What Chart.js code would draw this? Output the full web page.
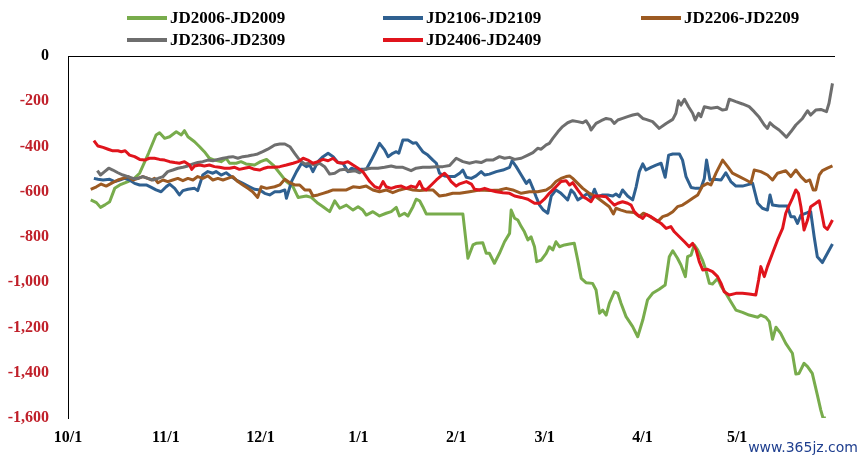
<!DOCTYPE html>
<html>
<head>
<meta charset="utf-8">
<script src="https://cdn.jsdelivr.net/npm/chart.js@4.4.1/dist/chart.umd.min.js"></script>
<style>
  html, body { margin: 0; padding: 0; background: #fff; }
  #wrap { position: relative; width: 864px; height: 463px; }
  #zero { position: absolute; height: 0; border-top: 1px solid #000; display: none; }
</style>
</head>
<body>
<div id="wrap"><canvas id="spread" width="864" height="463"></canvas><div id="zero"></div></div>
<script>
// series names (legend order)
const seriesNames = ['JD2006-JD2009', 'JD2106-JD2109', 'JD2206-JD2209', 'JD2306-JD2309', 'JD2406-JD2409'];
const seriesColors = ['#78AC4C', '#2F6090', '#9C5A22', '#6E6E6E', '#E0141C'];

// x = days since 10/1, y = spread value
const jd2006 = [[7.2,-636],[9,-648],[10.3,-669],[11.7,-658],[13.2,-644],[14.8,-585],[16.4,-570],[19,-555],[21.1,-540],[22.7,-518],[25.5,-430],[27.9,-349],[29,-339],[30.6,-364],[32.2,-357],[34.3,-335],[35.9,-349],[36.9,-330],[38,-357],[40.1,-379],[41.7,-401],[43.2,-423],[44.8,-452],[46.4,-460],[48.5,-467],[50.1,-452],[51.2,-474],[53.3,-474],[54.8,-467],[56.4,-477],[59.1,-482],[61,-467],[62.9,-457],[65,-482],[67.1,-518],[69.2,-555],[71.3,-578],[72.9,-625],[75.5,-619],[77.1,-625],[79.2,-651],[80.8,-666],[82.9,-688],[84.5,-640],[86.1,-673],[88.2,-659],[90.3,-681],[91.9,-666],[93.4,-681],[94.5,-703],[96.6,-688],[98.7,-707],[100.8,-695],[102.4,-688],[104,-669],[105,-707],[106.6,-695],[107.7,-707],[109.3,-666],[110.3,-633],[111.4,-640],[112.4,-666],[113.5,-698],[125.1,-698],[126.7,-894],[128.3,-835],[129.3,-828],[131.4,-825],[132.5,-872],[133.5,-872],[135.1,-916],[136.7,-872],[138.3,-821],[139.9,-784],[140.4,-681],[141.5,-717],[142.5,-725],[143.6,-754],[144.6,-777],[145.7,-813],[146.7,-799],[147.8,-843],[148.5,-909],[149.9,-902],[151.5,-872],[152.5,-843],[153.6,-857],[154.6,-821],[155.7,-843],[157.3,-835],[158.9,-831],[160.4,-828],[161.5,-902],[162.6,-983],[164.1,-1002],[166.2,-1005],[167.3,-1034],[168.4,-1137],[169.4,-1123],[170.5,-1145],[171.5,-1093],[173.1,-1042],[174.2,-1049],[175.2,-1093],[176.8,-1152],[178.9,-1196],[180.5,-1241],[182.1,-1167],[183.6,-1078],[185.2,-1049],[187.3,-1031],[189.2,-1012],[190.5,-887],[191.6,-861],[193.1,-894],[194.2,-924],[195.6,-975],[196.3,-887],[197.4,-880],[198.4,-835],[199.5,-857],[201,-902],[202.1,-946],[203.2,-1005],[204.2,-1008],[205.8,-983],[206.9,-1017],[208.4,-1049],[210,-1086],[211.6,-1123],[213.7,-1133],[215.8,-1145],[218.5,-1155],[219.5,-1145],[221.1,-1155],[222.2,-1174],[223.2,-1252],[224.3,-1199],[225.8,-1226],[227.4,-1270],[229.5,-1314],[230.6,-1406],[231.6,-1403],[233.2,-1358],[234.3,-1373],[235.8,-1403],[237.4,-1498],[238.5,-1565],[239.2,-1600],[240.1,-1600]];

const jd2106 = [[8.2,-541],[9.5,-545],[11.1,-548],[13.2,-545],[14.8,-555],[16.4,-548],[17.9,-541],[19.5,-548],[21.1,-563],[22.7,-570],[24.8,-570],[26.4,-581],[27.9,-592],[29.5,-600],[31.1,-578],[32.2,-566],[33.8,-585],[35.3,-614],[36.4,-595],[38,-589],[40.1,-585],[41.1,-595],[42.7,-526],[44.3,-511],[45.9,-518],[46.9,-511],[48.5,-526],[50.1,-516],[51.7,-533],[53.3,-548],[55.4,-563],[57.5,-578],[59.1,-589],[60.8,-592],[62.3,-607],[63.9,-614],[65.5,-600],[67.1,-600],[68.7,-592],[69.2,-629],[70.8,-555],[72.4,-511],[74,-474],[75.5,-489],[76.6,-482],[77.6,-511],[79.2,-467],[80.8,-445],[82.4,-430],[84,-445],[85.5,-471],[87.1,-474],[88.7,-511],[89.8,-496],[91.4,-504],[92.9,-501],[94.5,-501],[96.1,-460],[97.2,-430],[98.7,-386],[100.3,-415],[101.4,-445],[102.9,-430],[104,-423],[104.8,-430],[106.1,-371],[107.7,-371],[109.3,-386],[110.3,-383],[111.4,-404],[112.4,-423],[114,-438],[115.6,-460],[116.7,-474],[117.7,-518],[119.3,-530],[120.9,-533],[122.5,-533],[124.1,-518],[125.1,-504],[126.2,-536],[127.8,-541],[129.3,-530],[130.9,-511],[132,-526],[133.5,-522],[135.7,-511],[137.8,-504],[139.9,-492],[140.7,-463],[142,-489],[143.6,-526],[145.2,-563],[146.2,-548],[147.3,-585],[148.3,-622],[149.4,-659],[150.6,-681],[152,-695],[153.1,-619],[154.6,-592],[156.2,-607],[157.3,-622],[158.3,-636],[159.4,-592],[160.4,-607],[161.5,-636],[163.1,-622],[164.7,-607],[165.7,-629],[166.8,-589],[167.8,-622],[169.4,-614],[171,-614],[172.6,-619],[173.6,-610],[174.7,-622],[175.7,-592],[177.3,-619],[178.9,-636],[180,-578],[181,-511],[182.1,-477],[183.1,-504],[184.7,-492],[186.3,-482],[187.9,-474],[189.2,-536],[190.3,-438],[191.6,-433],[193.7,-433],[194.7,-460],[195.8,-533],[197.4,-581],[198.9,-585],[200.5,-585],[201.6,-541],[202.3,-460],[203.4,-548],[204.7,-545],[206.9,-548],[208.4,-516],[210,-555],[211.6,-575],[213.7,-575],[216.9,-563],[218.5,-651],[220,-673],[221.6,-681],[222.4,-614],[223.2,-659],[225.3,-663],[227.9,-663],[229,-710],[230.1,-710],[231.1,-740],[232.2,-703],[234.3,-692],[235.3,-688],[236.4,-799],[237.4,-887],[239,-913],[240.6,-872],[242.2,-831]];

const jd2206 = [[7.2,-589],[9,-578],[10.5,-566],[12.1,-575],[13.7,-563],[15.8,-548],[17.4,-541],[19,-533],[20.6,-548],[22.2,-541],[23.7,-533],[25.3,-541],[26.4,-548],[27.4,-541],[28.5,-560],[30.1,-548],[31.6,-555],[33.2,-548],[34.8,-541],[36.4,-551],[38,-541],[39.6,-548],[41.1,-533],[42.7,-541],[44.3,-530],[45.9,-548],[47.5,-541],[49.1,-548],[50.6,-541],[52.2,-533],[53.8,-555],[55.4,-570],[57,-585],[58.5,-600],[60.1,-625],[61.2,-578],[62.9,-585],[65.5,-578],[67.1,-570],[68.7,-545],[70.3,-560],[71.8,-570],[73.4,-570],[75,-592],[76.6,-592],[77.6,-619],[79.2,-614],[80.8,-607],[82.4,-600],[84,-592],[86.1,-592],[88.2,-592],[90.3,-578],[92.4,-581],[94.5,-575],[96.6,-592],[98.7,-600],[100.8,-592],[102.9,-604],[105.1,-592],[107.2,-585],[109.3,-592],[111.4,-595],[113.5,-592],[115.6,-592],[117.7,-619],[119.8,-614],[121.9,-607],[124.1,-607],[127.2,-600],[130.4,-592],[133.5,-595],[136.7,-592],[138.8,-585],[140.9,-592],[143.6,-607],[146.2,-600],[148.8,-600],[151.5,-592],[153.1,-578],[154.6,-555],[156.2,-541],[157.8,-533],[158.9,-530],[159.9,-541],[161.5,-563],[163.1,-585],[165.2,-607],[167.3,-622],[169.4,-644],[171.5,-666],[172.8,-698],[173.6,-673],[175.2,-681],[176.8,-688],[179.4,-692],[181,-710],[182.3,-695],[183.6,-703],[185.2,-717],[186.8,-732],[188.4,-710],[190,-703],[191.6,-688],[193.1,-666],[194.7,-659],[196.3,-644],[197.9,-629],[199.5,-614],[201,-575],[202.6,-563],[203.7,-570],[205.3,-518],[207.4,-460],[209,-489],[210.5,-518],[212.7,-533],[214.8,-548],[216.4,-560],[217.4,-504],[219.5,-511],[221.6,-526],[223.2,-548],[224.8,-518],[227.4,-507],[229,-533],[230.6,-504],[232.2,-533],[233.8,-555],[235,-548],[236.1,-592],[236.9,-592],[238,-526],[239,-507],[240.6,-496],[242.2,-486]];

const jd2306 = [[9.3,-507],[10.3,-526],[11.6,-511],[12.9,-496],[14.2,-504],[15.8,-516],[17.4,-526],[19,-533],[20.6,-541],[22.2,-541],[23.7,-533],[25.3,-541],[26.9,-548],[28.5,-541],[30.1,-533],[31.6,-511],[33.2,-504],[34.8,-496],[36.4,-492],[38,-486],[39.6,-477],[41.1,-471],[42.7,-467],[44.3,-460],[45.9,-463],[47.5,-457],[49.1,-452],[50.6,-448],[52.2,-445],[53.8,-452],[55.4,-445],[57,-442],[58.5,-438],[60.1,-433],[61.7,-423],[63.3,-412],[65.5,-393],[67.1,-389],[68.7,-389],[70.3,-401],[71.8,-430],[73.4,-460],[75,-477],[76.6,-474],[78.2,-482],[79.7,-474],[81.3,-489],[82.9,-522],[84.5,-518],[86.1,-504],[87.7,-501],[89.2,-511],[90.8,-507],[92.4,-516],[94,-501],[96.1,-496],[98.2,-496],[100.3,-492],[102.4,-486],[104,-492],[106.1,-492],[108.7,-507],[110.3,-496],[112.4,-492],[114.6,-492],[116.7,-489],[118.8,-489],[120.9,-484],[123,-452],[125.1,-467],[127.2,-474],[129.3,-467],[130.9,-471],[132.5,-460],[134.6,-460],[136.7,-445],[138.3,-452],[139.9,-448],[141.5,-457],[143.6,-452],[145.7,-438],[147.3,-427],[148.8,-408],[149.9,-412],[151.5,-393],[152.5,-386],[153.6,-364],[155.2,-335],[156.7,-312],[158.3,-295],[159.9,-286],[161.5,-290],[163.1,-295],[164.1,-286],[165.2,-309],[165.7,-327],[167.3,-298],[168.9,-286],[170.5,-276],[172,-280],[173.1,-298],[174.2,-283],[175.7,-276],[177.3,-268],[178.9,-261],[180.5,-256],[182.1,-276],[183.1,-280],[185.2,-290],[187.3,-320],[189.5,-298],[191.6,-280],[192.6,-253],[193.4,-198],[194.2,-217],[195.3,-191],[196.6,-224],[197.9,-253],[198.7,-283],[199.8,-253],[200.5,-268],[201.6,-224],[203.7,-231],[205.8,-227],[207.4,-239],[208.6,-236],[209.5,-191],[211.6,-202],[213.7,-212],[215.8,-224],[217.4,-246],[219,-271],[220.6,-305],[221.6,-320],[222.4,-295],[223.7,-312],[225.3,-327],[226.4,-342],[227.6,-359],[229,-335],[230.6,-305],[232.7,-276],[234.3,-242],[235.3,-261],[236.9,-239],[238.5,-236],[240.3,-246],[241.1,-209],[242.2,-121]];

const jd2406 = [[8.2,-374],[9.5,-398],[11.1,-404],[12.7,-412],[14.2,-419],[15.8,-419],[16.9,-423],[18.1,-419],[19.5,-438],[21.1,-445],[22.7,-457],[24.3,-460],[25.8,-452],[27.4,-452],[29,-457],[30.6,-460],[32.2,-467],[33.8,-471],[35.3,-474],[36.9,-467],[38.5,-482],[39.2,-501],[40.1,-486],[41.7,-482],[43.2,-486],[44.8,-482],[46.4,-489],[48,-492],[49.6,-496],[51.2,-496],[52.8,-492],[54.3,-501],[55.9,-496],[57.5,-492],[59.1,-501],[60.7,-504],[62.2,-496],[63.3,-492],[65,-492],[67.1,-489],[69.2,-482],[71.3,-474],[72.9,-467],[74.5,-452],[76,-460],[77.6,-474],[79.2,-467],[80.8,-457],[82.4,-463],[84,-452],[85.5,-471],[87.1,-474],[88.7,-467],[90.3,-482],[91.9,-496],[93.4,-511],[94.5,-533],[95.6,-555],[97.2,-578],[98.7,-585],[99.8,-555],[100.8,-578],[102.4,-585],[104,-578],[105.6,-575],[107.2,-585],[108.7,-575],[110.3,-581],[111.4,-555],[112.4,-585],[113.5,-592],[115.1,-570],[116.7,-548],[118.2,-530],[119.3,-518],[120.3,-533],[121.4,-555],[123,-575],[124.1,-565],[126.2,-555],[127.8,-566],[128.8,-589],[130.4,-592],[132,-585],[133.5,-592],[135.7,-600],[137.8,-604],[139.9,-607],[141.5,-619],[143.6,-625],[145.7,-633],[147.8,-651],[149.4,-651],[150.9,-633],[152.5,-607],[154.6,-578],[156.2,-555],[157.8,-551],[158.9,-570],[159.9,-560],[161.5,-592],[163.1,-622],[164.1,-629],[165.7,-644],[166.8,-619],[168.4,-619],[170.5,-622],[172,-644],[173.1,-659],[174.2,-651],[175.7,-644],[177.3,-651],[178.4,-659],[179.4,-688],[180.5,-703],[182.1,-718],[183.1,-700],[184.7,-710],[186.3,-725],[187.9,-740],[189.5,-762],[191,-754],[192.1,-777],[193.7,-799],[195.3,-821],[196.8,-843],[197.9,-828],[199,-857],[200,-909],[201.1,-946],[202.6,-943],[204.2,-953],[205.8,-975],[206.9,-1005],[207.9,-1042],[209.5,-1056],[211.6,-1049],[213.7,-1049],[215.8,-1052],[217.9,-1056],[218.8,-990],[219.5,-931],[220.6,-975],[221.6,-931],[223.2,-872],[224.8,-813],[226.4,-762],[227.4,-695],[228.5,-659],[229.5,-629],[230.6,-592],[231.4,-607],[232.2,-666],[233.2,-769],[234.3,-725],[235.3,-666],[236.9,-651],[238,-640],[238.8,-695],[239.6,-754],[240.6,-766],[241.1,-754],[242.2,-725]];

// month ticks on the date axis
const monthDays = [0, 31, 61, 92, 123, 151, 182, 212];
const monthLabels = ['10/1', '11/1', '12/1', '1/1', '2/1', '3/1', '4/1', '5/1'];
const yTicks = { min: -1600, max: 0, step: 200 };

const allSeries = [jd2006, jd2106, jd2206, jd2306, jd2406];
const serif = '"Liberation Serif", "Times New Roman", serif';

// legend drawn in a fixed 3-column grid like the original
const gridLegend = {
    id: 'gridLegend',
    afterDraw(chart) {
        const ctx = chart.ctx;
        const area = chart.chartArea;
        ctx.save();

        // zero line: category axis crosses at 0, along the top of the plot
        ctx.strokeStyle = '#000000';
        ctx.lineWidth = 1;
        ctx.beginPath();
        ctx.moveTo(area.left, area.top + 0.5);
        ctx.lineTo(area.right, area.top + 0.5);
        ctx.stroke();

        // same line as an overlay element, in case the canvas edge gets lost
        const z = document.getElementById('zero');
        z.style.left = area.left + 'px';
        z.style.top = area.top + 'px';
        z.style.width = (area.right - area.left) + 'px';
        z.style.display = 'block';

        const cols = [127, 383, 641];
        const rows = [18, 40];
        ctx.font = 'bold 17px ' + serif;
        ctx.textBaseline = 'middle';
        chart.data.datasets.forEach((ds, i) => {
            const x = cols[i % 3];
            const y = rows[Math.floor(i / 3)];
            ctx.strokeStyle = ds.borderColor;
            ctx.lineWidth = 4;
            ctx.beginPath();
            ctx.moveTo(x, y);
            ctx.lineTo(x + 40, y);
            ctx.stroke();
            ctx.fillStyle = '#000';
            ctx.fillText(ds.label, x + 43, y + 1);
        });
        // watermark
        ctx.font = '14px "DejaVu Sans", sans-serif';
        ctx.fillStyle = '#1F3F8F';
        ctx.textAlign = 'right';
        ctx.fillText('www.365jz.com', 858, 448);
        ctx.restore();
    }
};

const datasets = seriesNames.map((name, i) => ({
    label: name,
    data: allSeries[i].map(p => ({ x: p[0], y: p[1] })),
    borderColor: seriesColors[i],
    backgroundColor: seriesColors[i],
    borderWidth: 3,
    pointRadius: 0,
    tension: 0,
    fill: false,
    borderJoinStyle: 'round',
    order: seriesNames.length - i
}));

new Chart(document.getElementById('spread'), {
    type: 'line',
    data: { datasets: datasets },
    options: {
        responsive: false,
        animation: false,
        layout: { padding: { top: 56, right: 29, left: 0, bottom: 0 } },
        plugins: {
            legend: { display: false },
            tooltip: { enabled: false }
        },
        scales: {
            x: {
                type: 'linear',
                min: 0,
                max: 243,
                afterBuildTicks: s => { s.ticks = monthDays.map(v => ({ value: v })); },
                afterFit: s => { s.height = 45; },
                grid: { display: false, drawTicks: false },
                border: { display: false },
                ticks: {
                    autoSkip: false,
                    maxRotation: 0,
                    padding: 10,
                    color: '#000',
                    font: { family: serif, size: 16, weight: 'bold' },
                    callback: v => monthLabels[monthDays.indexOf(v)]
                }
            },
            y: {
                min: yTicks.min,
                max: yTicks.max,
                afterFit: s => { s.width = 68; },
                grid: { display: false, drawTicks: false },
                border: { display: true, color: '#000', width: 1 },
                ticks: {
                    stepSize: yTicks.step,
                    padding: 19,
                    font: { family: serif, size: 16, weight: 'bold' },
                    color: c => (c.tick && c.tick.value === 0) ? '#000' : '#C0202A',
                    callback: v => v.toLocaleString('en-US')
                }
            }
        }
    },
    plugins: [gridLegend]
});
</script>
</body>
</html>
